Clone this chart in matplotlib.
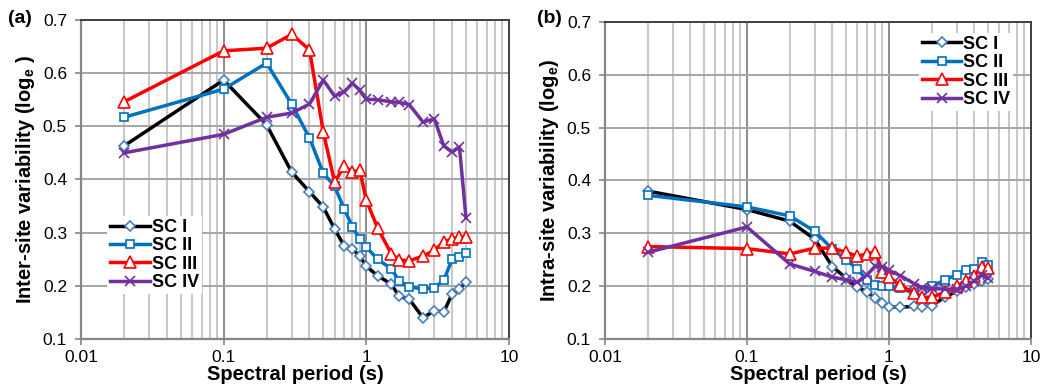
import matplotlib
matplotlib.use("Agg")
import matplotlib.pyplot as plt
from matplotlib.ticker import FixedLocator, FixedFormatter, LogLocator, NullFormatter

plt.rcParams['font.family'] = ['Liberation Sans', 'DejaVu Sans']
plt.rcParams['mathtext.fontset'] = 'custom'
plt.rcParams['mathtext.rm'] = 'Liberation Sans'
plt.rcParams['mathtext.bf'] = 'Liberation Sans:bold'

periods = [0.02, 0.1, 0.2, 0.3, 0.4, 0.5, 0.6, 0.7, 0.8, 0.9, 1.0,
           1.2, 1.5, 1.7, 2.0, 2.5, 3.0, 3.5, 4.0, 4.5, 5.0]
series_names = ['SC I', 'SC II', 'SC III', 'SC IV']

# Panel (a): inter-site variability
inter_sc1 = [0.463, 0.587, 0.503, 0.414, 0.377, 0.348, 0.307, 0.275, 0.269, 0.256, 0.237,
             0.219, 0.203, 0.180, 0.175, 0.140, 0.153, 0.151, 0.185, 0.194, 0.207]
inter_sc2 = [0.517, 0.570, 0.619, 0.542, 0.478, 0.412, 0.387, 0.345, 0.311, 0.288, 0.273,
             0.250, 0.232, 0.209, 0.198, 0.194, 0.196, 0.211, 0.250, 0.254, 0.261]
inter_sc3 = [0.546, 0.642, 0.647, 0.673, 0.644, 0.489, 0.395, 0.425, 0.414, 0.418, 0.361,
             0.309, 0.260, 0.249, 0.247, 0.256, 0.267, 0.283, 0.288, 0.292, 0.292]
inter_sc4 = [0.450, 0.485, 0.517, 0.525, 0.542, 0.587, 0.557, 0.565, 0.581, 0.568, 0.551,
             0.550, 0.546, 0.545, 0.541, 0.508, 0.514, 0.463, 0.452, 0.461, 0.328]

# Panel (b): intra-site variability
intra_sc1 = [0.380, 0.345, 0.323, 0.289, 0.237, 0.215, 0.198, 0.189, 0.177, 0.168, 0.161,
             0.160, 0.162, 0.161, 0.163, 0.180, 0.190, 0.198, 0.204, 0.210, 0.214]
intra_sc2 = [0.372, 0.350, 0.333, 0.304, 0.270, 0.250, 0.232, 0.212, 0.202, 0.200, 0.200,
             0.196, 0.187, 0.192, 0.200, 0.212, 0.222, 0.230, 0.233, 0.246, 0.240]
intra_sc3 = [0.275, 0.271, 0.261, 0.272, 0.272, 0.264, 0.257, 0.261, 0.265, 0.227, 0.217,
             0.202, 0.187, 0.179, 0.179, 0.189, 0.200, 0.210, 0.220, 0.237, 0.235]
intra_sc4 = [0.264, 0.312, 0.242, 0.228, 0.217, 0.212, 0.207, 0.221, 0.238, 0.236, 0.230,
             0.220, 0.205, 0.197, 0.196, 0.194, 0.194, 0.200, 0.210, 0.222, 0.215]

y_ticks = [0.1, 0.2, 0.3, 0.4, 0.5, 0.6, 0.7]
y_tick_labels = ['0.1', '0.2', '0.3', '0.4', '0.5', '0.6', '0.7']
x_ticks = [0.01, 0.1, 1, 10]
x_tick_labels = ['0.01', '0.1', '1', '10']

line_colors = ['#000000', '#0070c0', '#ff0000', '#7030a0']
marker_edges = ['#4a7ebb', '#0070c0', '#ff0000', '#7030a0']
markers = ['D', 's', '^', 'x']
msizes = [5.4, 6.2, 8.2, 7.2]

fig = plt.figure(figsize=(10.42, 3.90), dpi=100)
ax_a = fig.add_axes([0.0777, 0.1308, 0.4107, 0.8179])
ax_b = fig.add_axes([0.5806, 0.1308, 0.4088, 0.8128])


def style_axes(ax):
    ax.set_xscale('log')
    ax.set_xlim(0.01, 10)
    ax.set_ylim(0.1, 0.7)
    ax.yaxis.set_major_locator(FixedLocator(y_ticks))
    ax.yaxis.set_major_formatter(FixedFormatter(y_tick_labels))
    ax.xaxis.set_major_locator(FixedLocator(x_ticks))
    ax.xaxis.set_major_formatter(FixedFormatter(x_tick_labels))
    ax.xaxis.set_minor_locator(LogLocator(base=10, subs=[2, 3, 4, 5, 6, 7, 8, 9]))
    ax.xaxis.set_minor_formatter(NullFormatter())
    ax.tick_params(axis='both', which='major', labelsize=12.5, length=4, width=1.2,
                   color='#868686', direction='out', pad=6)
    ax.tick_params(axis='x', which='major', pad=4)
    ax.tick_params(axis='x', which='minor', length=0)
    ax.grid(which='major', axis='y', color='#a6a6a6', lw=1.4, zorder=0)
    ax.grid(which='major', axis='x', color='#8c8c8c', lw=1.4, zorder=0)
    ax.grid(which='minor', axis='x', color='#c8c8c8', lw=1.4, zorder=0)
    ax.set_axisbelow(True)
    for s in ['left', 'bottom']:
        ax.spines[s].set_color('#868686')
        ax.spines[s].set_linewidth(1.6)
    for s in ['top', 'right']:
        ax.spines[s].set_color('#404040')
        ax.spines[s].set_linewidth(1.4)
    ax.set_xlabel('Spectral period (s)', fontsize=14.5, fontweight='bold', labelpad=0)


def draw(ax, data):
    for vals, name, lc, me, mk, ms in zip(data, series_names, line_colors,
                                          marker_edges, markers, msizes):
        if mk == 'x':
            ax.plot(periods, vals, color=lc, lw=2.5, marker=mk, ms=ms,
                    mec=me, mew=1.2, label=name, zorder=3)
        else:
            ax.plot(periods, vals, color=lc, lw=2.5, marker=mk, ms=ms,
                    mec=me, mfc='white', mew=1.2, label=name, zorder=3)


style_axes(ax_a)
style_axes(ax_b)
draw(ax_a, [inter_sc1, inter_sc2, inter_sc3, inter_sc4])
draw(ax_b, [intra_sc1, intra_sc2, intra_sc3, intra_sc4])

ax_a.set_ylabel(r'Inter-site variability (log$_\mathbf{e}$ )', fontsize=14.5,
                fontweight='bold', labelpad=4)
ax_b.set_ylabel(r'Intra-site variability (log$_\mathbf{e}$)', fontsize=14.5,
                fontweight='bold', labelpad=4)

leg_kw = dict(fontsize=13, frameon=True, fancybox=False, framealpha=1,
              facecolor='white', edgecolor='none', handlelength=2.2,
              handletextpad=0.1, labelspacing=0.08, borderpad=0.15,
              borderaxespad=0)
leg_a = ax_a.legend(loc='upper left', bbox_to_anchor=(0.062, 0.385), **leg_kw)
leg_b = ax_b.legend(loc='upper right', bbox_to_anchor=(0.958, 0.965), **leg_kw)
for leg in (leg_a, leg_b):
    for t in leg.get_texts():
        t.set_fontweight('bold')

fig.text(0.008, 0.975, '(a)', fontsize=14, fontweight='bold', va='top', ha='left')
fig.text(0.515, 0.975, '(b)', fontsize=14, fontweight='bold', va='top', ha='left')

fig.savefig('out.png', dpi=100)
